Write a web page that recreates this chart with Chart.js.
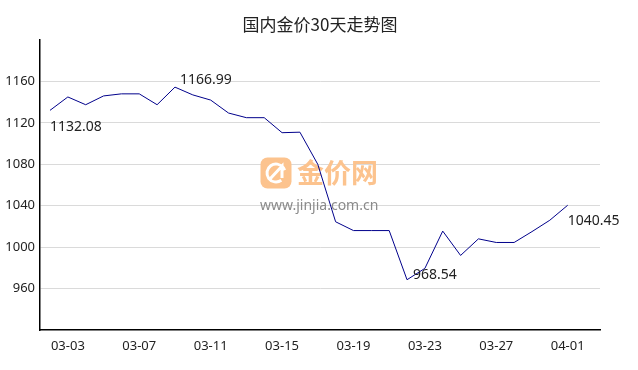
<!DOCTYPE html>
<html>
<head>
<meta charset="utf-8">
<script src="https://cdn.jsdelivr.net/npm/chart.js@4"></script>
<style>
    body { margin: 0; background: #fff; }
    #wrap { width: 638px; height: 370px; }
</style>
</head>
<body>
<div id="wrap"><canvas id="goldChart" width="638" height="370"></canvas></div>
<script>
// 日期 (每个点一个)
const dates = [
    '03-02', '03-03', '03-04', '03-05', '03-06', '03-07', '03-08', '03-09', '03-10', '03-11',
    '03-12', '03-13', '03-14', '03-15', '03-16', '03-17', '03-18', '03-19', '03-20', '03-21',
    '03-22', '03-23', '03-24', '03-25', '03-26', '03-27', '03-28', '03-29', '03-31', '04-01'
];
// 金价
const prices = [
    1132.08, 1145, 1137.5, 1146, 1148, 1148, 1137.5, 1154.5, 1147, 1142,
    1129.5, 1125, 1125, 1110.5, 1111, 1080, 1024.5, 1016, 1016, 1016,
    968.54, 979.5, 1015.5, 992, 1008, 1004.5, 1004.5, 1015, 1026, 1040.45
];
// x轴显示的刻度 (索引) 与 y轴刻度
const xTickIndex = [1, 5, 9, 13, 17, 21, 25, 29];
const yTicks = [960, 1000, 1040, 1080, 1120, 1160];
// 标注: 起点, 最高, 最低, 终点
const markIndex = [0, 7, 20, 29];
const markText = ['1132.08', '1166.99', '968.54', '1040.45'];

const titleText = '国内金价30天走势图';

// 标注文字相对点的偏移
const markOffset = [[0, 17], [5, -7], [6, -5], [0, 16]];

const titlePlugin = {
    id: 'titleText',
    afterDraw(chart) {
        const ctx = chart.ctx;
        ctx.save();
        ctx.font = '17px "Noto Sans CJK SC", sans-serif';
        ctx.fillStyle = '#222';
        ctx.textAlign = 'center';
        ctx.textBaseline = 'middle';
        ctx.fillText(titleText, 320, 25);
        ctx.restore();
    }
};

const watermarkPlugin = {
    id: 'watermark',
    beforeDatasetsDraw(chart) {
        const ctx = chart.ctx;
        ctx.save();
        // logo
        ctx.fillStyle = '#fcc38e';
        ctx.beginPath();
        ctx.roundRect(260.5, 157.5, 31, 31, 7);
        ctx.fill();
        ctx.strokeStyle = '#fff';
        ctx.lineWidth = 3;
        ctx.beginPath();
        ctx.arc(276, 173, 9, 0.3 * Math.PI, 1.9 * Math.PI);
        ctx.stroke();
        ctx.beginPath();
        ctx.moveTo(270, 179);
        ctx.lineTo(282, 166);
        ctx.lineTo(282, 178);
        ctx.stroke();
        // 文字
        ctx.font = 'bold 27px "Noto Sans CJK SC", sans-serif';
        ctx.fillStyle = '#fcc38e';
        ctx.textBaseline = 'middle';
        ctx.textAlign = 'left';
        ctx.fillText('金价网', 297, 173);
        ctx.font = '14px "Noto Sans", sans-serif';
        ctx.fillStyle = '#8a8a8a';
        ctx.fillText('www.jinjia.com.cn', 260, 206);
        ctx.restore();
    }
};

const markPlugin = {
    id: 'marks',
    afterDatasetsDraw(chart) {
        const ctx = chart.ctx;
        const xs = chart.scales.x;
        const ys = chart.scales.y;
        ctx.save();
        ctx.font = '14px "Noto Sans", sans-serif';
        ctx.fillStyle = '#222';
        ctx.textAlign = 'left';
        ctx.textBaseline = 'middle';
        markIndex.forEach((idx, k) => {
            const px = xs.getPixelForValue(idx);
            const py = ys.getPixelForValue(prices[idx]);
            ctx.fillText(markText[k], px + markOffset[k][0], py + markOffset[k][1]);
        });
        ctx.restore();
    }
};

const ctx = document.getElementById('goldChart').getContext('2d');
new Chart(ctx, {
    type: 'line',
    data: {
        datasets: [{
            label: '金价',
            data: prices.map((p, i) => ({ x: i, y: p })),
            borderColor: '#00008b',
            borderWidth: 1,
            pointRadius: 0,
            tension: 0,
            fill: false
        }]
    },
    options: {
        responsive: false,
        animation: false,
        layout: {
            padding: { top: 40, right: 38, left: 0, bottom: 0 }
        },
        plugins: {
            legend: { display: false },
            tooltip: { enabled: false }
        },
        scales: {
            x: {
                type: 'linear',
                min: -0.56,
                max: 30.81,
                afterBuildTicks: (scale) => {
                    scale.ticks = xTickIndex.map(v => ({ value: v }));
                },
                afterFit: (scale) => { scale.height = 40; },
                grid: { display: false, drawTicks: false },
                border: { display: true, color: '#000', width: 1.5 },
                ticks: {
                    autoSkip: false,
                    maxRotation: 0,
                    padding: 8,
                    color: '#222',
                    font: { size: 13, family: '"Noto Sans", sans-serif' },
                    callback: (v) => dates[v]
                }
            },
            y: {
                min: 920,
                max: 1200,
                afterBuildTicks: (scale) => {
                    scale.ticks = yTicks.map(v => ({ value: v }));
                },
                afterFit: (scale) => { scale.width = 40; },
                grid: { color: '#dadada', lineWidth: 1, drawTicks: false },
                border: { display: true, color: '#000', width: 1.5 },
                ticks: {
                    padding: 5,
                    color: '#222',
                    font: { size: 13, family: '"Noto Sans", sans-serif' },
                    callback: (v) => String(v)
                }
            }
        }
    },
    plugins: [watermarkPlugin, markPlugin, titlePlugin]
});
</script>
</body>
</html>
